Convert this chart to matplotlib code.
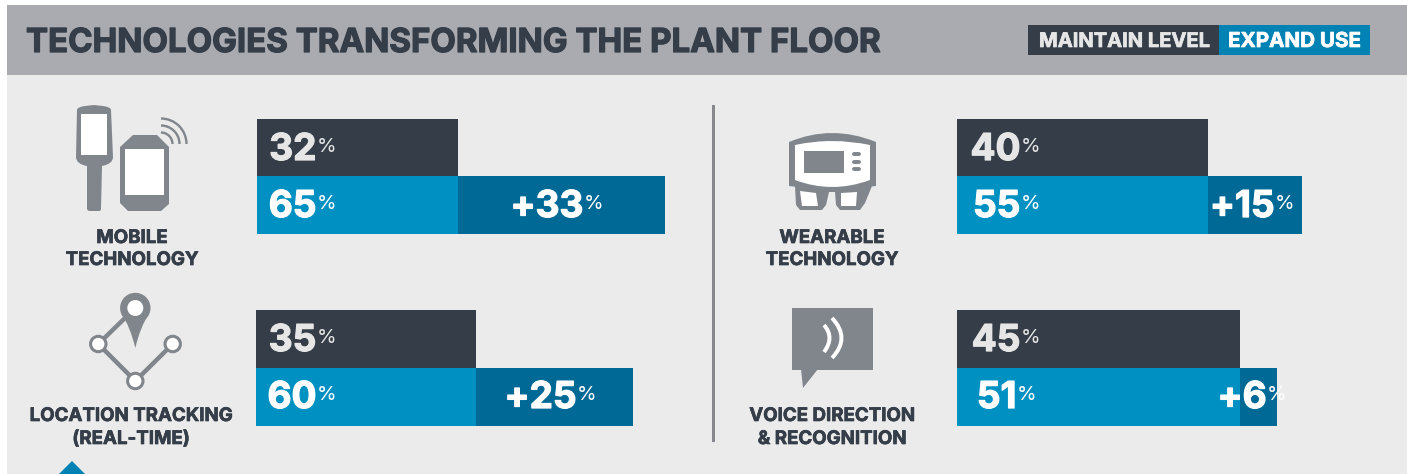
#!/usr/bin/env python3

import matplotlib

matplotlib.use("Agg")

import matplotlib.patheffects as pe
import matplotlib.pyplot as plt
from matplotlib.patches import Arc, Circle, PathPatch, Polygon, Rectangle
from matplotlib.path import Path

WIDTH = 1407
HEIGHT = 474
PX_PER_PCT = 6.28

title = "TECHNOLOGIES TRANSFORMING THE PLANT FLOOR"
legend_labels = ["MAINTAIN LEVEL", "EXPAND USE"]

maintain = [32, 35, 40, 45]
lift = [33, 25, 15, 6]
expand = [65, 60, 55, 51]

category_labels = [
    ["MOBILE", "TECHNOLOGY"],
    ["LOCATION TRACKING", "(REAL-TIME)"],
    ["WEARABLE", "TECHNOLOGY"],
    ["VOICE DIRECTION", "& RECOGNITION"],
]

DARK = "#343d48"
BLUE = "#0090c1"
DEEP_BLUE = "#006996"
LEGEND_BLUE = "#0082b5"
HEADER = "#a9abb0"
PANEL = "#ebebeb"
ICON = "#80868c"
SOFT_WHITE = "#e6e6e6"

FONT = "Inter"


def put_text(fig, x, y, s, size, color, weight="bold", ha="left", stroke=0.0):
    # x, y in reference pixels, y is the baseline
    t = fig.text(
        x / WIDTH,
        1 - y / HEIGHT,
        s,
        fontsize=size * 0.72,
        color=color,
        fontweight=weight,
        family=FONT,
        ha=ha,
        va="baseline",
    )
    if stroke:
        # installed Inter is not as heavy as the original face
        t.set_path_effects([pe.withStroke(linewidth=stroke, foreground=color)])


def put_value(fig, x, y, s, color):
    # number ends at x, smaller % sign sits raised right after it
    put_text(fig, x - 1.5, y + 12, s, 37, color, ha="right", stroke=0.9)
    put_text(fig, x - 1, y + 4, "%", 20, color, weight="normal")


def curve(ax, start, mid, end, width, color):
    ctrl = (2 * mid[0] - (start[0] + end[0]) / 2, 2 * mid[1] - (start[1] + end[1]) / 2)
    path = Path([start, ctrl, end], [Path.MOVETO, Path.CURVE3, Path.CURVE3])
    ax.add_patch(PathPatch(path, fill=False, edgecolor=color, lw=width * 0.72, capstyle="butt"))


def draw_mobile_icon(ax):
    verts = [
        (77, 110), (77, 107), (85, 106), (94, 105), (103, 106), (111, 107), (111, 110),
        (113, 157), (113, 164), (102, 166), (101, 209), (101, 211), (99, 211),
        (89, 211), (88, 211), (87, 209), (87, 166), (76, 164), (76, 157), (77, 110),
    ]
    codes = [
        Path.MOVETO, Path.CURVE3, Path.CURVE3, Path.LINETO, Path.LINETO, Path.CURVE3, Path.CURVE3,
        Path.LINETO, Path.CURVE3, Path.CURVE3, Path.LINETO, Path.CURVE3, Path.CURVE3,
        Path.LINETO, Path.CURVE3, Path.CURVE3, Path.LINETO, Path.CURVE3, Path.CURVE3, Path.CLOSEPOLY,
    ]
    ax.add_patch(PathPatch(Path(verts, codes), color=ICON, lw=0))
    ax.add_patch(Rectangle((81, 114), 26, 41, color="white", lw=0))
    ax.add_patch(
        Polygon(
            [(133, 135), (157, 135), (169, 147), (169, 204), (161, 211), (128, 211),
             (120, 203), (120, 147)],
            color=ICON, lw=0,
        )
    )
    ax.add_patch(Rectangle((125, 149), 39, 46, color="white", lw=0))
    for r in [25.5, 18.5, 11.5]:
        ax.add_patch(Arc((161, 144), 2 * r, 2 * r, theta1=270, theta2=360,
                         edgecolor=ICON, lw=1.7))


def draw_location_icon(ax):
    pts = [(125, 318), (98.3, 344), (135.3, 381), (172.7, 344)]
    ax.plot([p[0] for p in pts], [p[1] for p in pts], color=ICON, lw=3.2,
            solid_capstyle="butt", zorder=2)
    for p in pts[1:]:
        ax.add_patch(Circle(p, 7.7, facecolor="white", edgecolor=ICON, lw=2.2, zorder=3))
    ax.add_patch(Circle((135.3, 308), 15.2, color=ICON, lw=0, zorder=3))
    tail = Path(
        [(121.5, 314), (130, 326), (135.3, 348), (140.5, 326), (149, 314), (121.5, 314)],
        [Path.MOVETO, Path.CURVE3, Path.CURVE3, Path.CURVE3, Path.CURVE3, Path.CLOSEPOLY],
    )
    ax.add_patch(PathPatch(tail, color=ICON, lw=0, zorder=3))
    ax.add_patch(Circle((135.3, 308), 8, color="white", lw=0, zorder=4))


def draw_wearable_icon(ax):
    legs = [
        (795, 186), (796, 205), (800, 210), (822, 210), (826, 205), (829, 192),
        (835, 192), (836, 205), (840, 210), (860, 210), (865, 203), (872, 186),
    ]
    ax.add_patch(Polygon(legs, color=ICON, lw=0))
    ax.add_patch(Polygon([(800, 191), (816, 193), (818, 206), (802, 206)], color="white", lw=0))
    ax.add_patch(Polygon([(841, 193), (857, 192), (856, 206), (841, 206)], color="white", lw=0))
    outer = Path(
        [(789, 142), (832, 124), (876, 142), (876, 186), (832, 192), (789, 186), (789, 142)],
        [Path.MOVETO, Path.CURVE3, Path.CURVE3, Path.LINETO, Path.CURVE3, Path.CURVE3, Path.CLOSEPOLY],
    )
    ax.add_patch(PathPatch(outer, color=ICON, lw=0))
    inner = Path(
        [(795, 145), (832, 137), (870, 145), (870, 180), (832, 194), (795, 180), (795, 145)],
        [Path.MOVETO, Path.CURVE3, Path.CURVE3, Path.LINETO, Path.CURVE3, Path.CURVE3, Path.CLOSEPOLY],
    )
    ax.add_patch(PathPatch(inner, color="white", lw=0))
    ax.add_patch(Rectangle((804, 151), 40, 22, color=ICON, lw=0))
    for y in [154, 162, 169]:
        ax.plot([854, 859], [y, y], color=ICON, lw=2.8, solid_capstyle="round")


def draw_voice_icon(ax):
    ax.add_patch(Rectangle((792, 308), 81, 62, color=ICON, lw=0))
    ax.add_patch(Polygon([(801, 369), (803, 388), (818, 369)], color=ICON, lw=0))
    curve(ax, (824, 325), (829.5, 338), (824, 352), 4, "white")
    curve(ax, (832, 318), (841.5, 338), (832, 358), 4, "white")


def draw_backdrop(fig):
    ax = fig.add_axes([0, 0, 1, 1], zorder=0)
    ax.set_xlim(0, WIDTH)
    ax.set_ylim(HEIGHT, 0)
    ax.axis("off")

    ax.add_patch(Rectangle((7, 5), WIDTH - 7, HEIGHT - 5, color=PANEL, lw=0))
    ax.add_patch(Rectangle((7, 5), WIDTH - 7, 70, color=HEADER, lw=0))
    ax.add_patch(Rectangle((1028, 25), 191, 30, color=DARK, lw=0))
    ax.add_patch(Rectangle((1219, 25), 151, 30, color=LEGEND_BLUE, lw=0))
    ax.add_patch(Rectangle((711.5, 105), 3, 337, color="#85898d", lw=0))
    ax.add_patch(Polygon([(72, 461), (59, 474), (85, 474)], color=LEGEND_BLUE, lw=0))

    draw_mobile_icon(ax)
    draw_location_icon(ax)
    draw_wearable_icon(ax)
    draw_voice_icon(ax)


def draw_panel(fig, idx, left, top, height):
    ax = fig.add_axes(
        [left / WIDTH, 1 - (top + height) / HEIGHT, 100 * PX_PER_PCT / WIDTH, height / HEIGHT],
        zorder=1,
    )
    ax.barh(1, maintain[idx], height=1, color=DARK)
    ax.barh(0, maintain[idx], height=1, color=BLUE)
    ax.barh(0, lift[idx], left=maintain[idx], height=1, color=DEEP_BLUE)
    ax.set_xlim(0, 100)
    ax.set_ylim(-0.5, 1.5)
    ax.axis("off")
    ax.patch.set_alpha(0)


def main():
    fig = plt.figure(figsize=(WIDTH / 100, HEIGHT / 100), dpi=100, facecolor="white")
    draw_backdrop(fig)

    lefts = [257, 256, 957, 957]
    tops = [119, 310, 119, 310]
    heights = [115, 116, 115, 116]
    for i in range(4):
        draw_panel(fig, i, lefts[i], tops[i], heights[i])

    put_text(fig, 26, 52, title, 33.05, DARK, stroke=0.9)
    put_text(fig, 1039, 47, legend_labels[0], 20.1, SOFT_WHITE, stroke=0.5)
    put_text(fig, 1228, 47, legend_labels[1], 20.6, "white", stroke=0.5)

    value_x = [318, 318, 1022, 1022]
    expand_x = [318, 318, 1022, 1018]
    lift_x = [585, 578, 1276, 1268]
    for i in range(4):
        top = tops[i]
        put_value(fig, value_x[i], top + 29, f"{maintain[i]}", SOFT_WHITE)
        put_value(fig, expand_x[i], top + 86, f"{expand[i]}", "white")
        put_value(fig, lift_x[i], top + 86, f"+{lift[i]}", "white")

    label_x = [132, 131, 832, 832]
    label_y = [[243, 265], [421, 444], [243, 265], [421, 444]]
    for i, lines in enumerate(category_labels):
        for line, y in zip(lines, label_y[i]):
            put_text(fig, label_x[i], y, line, 18.7, DARK, ha="center", stroke=0.5)

    fig.savefig("out.png", dpi=100)


if __name__ == "__main__":
    main()
